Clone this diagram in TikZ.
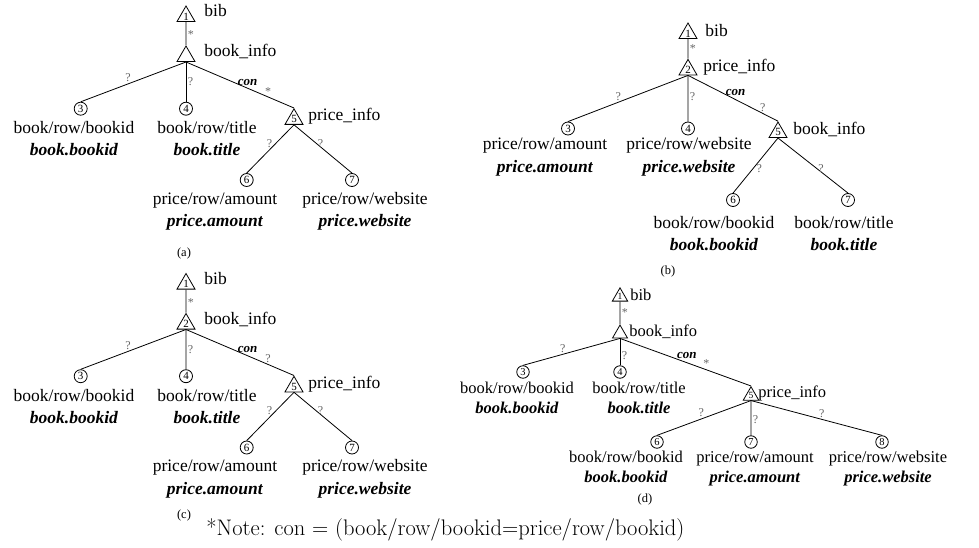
\documentclass[tikz,border=0pt]{standalone}
\usepackage{fontspec}
\newfontfamily\tmsfont{Liberation Serif}
\usetikzlibrary{shapes.geometric,positioning}

\begin{document}
\begin{tikzpicture}[
    x=1pt, y=-1pt, line width=0.8pt,
    tri/.style={regular polygon, regular polygon sides=3, draw, inner sep=0pt, minimum size=20.8pt, font=\tmsfont\fontsize{11}{11}\selectfont},
    smalltri/.style={tri, minimum size=17.3pt, font=\tmsfont\fontsize{9.5}{9.5}\selectfont},
    circ/.style={circle, draw, inner sep=0pt, minimum size=13pt, font=\tmsfont\fontsize{11}{11}\selectfont},
    smallcirc/.style={circ, minimum size=12.5pt, font=\tmsfont\fontsize{10.5}{10.5}\selectfont},
    lbl/.style={anchor=base west, inner sep=0pt, font=\tmsfont\fontsize{17.5}{21}\selectfont},
    smalllbl/.style={lbl, font=\tmsfont\fontsize{16.5}{20}\selectfont},
    leaf/.style={anchor=base, align=center, inner sep=0pt, font=\tmsfont\fontsize{17.5}{22.5}\selectfont},
    smallleaf/.style={leaf, font=\tmsfont\fontsize{16.5}{20.5}\selectfont},
    elbl/.style={inner sep=1.5pt, text=black!60, font=\tmsfont\fontsize{12}{12}\selectfont},
    conlbl/.style={inner sep=1.5pt, font=\tmsfont\bfseries\itshape\fontsize{13}{13}\selectfont},
    subcap/.style={font=\tmsfont\fontsize{12.5}{12.5}\selectfont}
]
    \useasboundingbox (0,0) rectangle (979,548);

    % (a)
    \node[tri] (a1) at (186,16.4) {1};
    \node[lbl] (a1l) at (204,16.5) {bib};
    \node[tri] (a2) at (186,56.4) {};
    \node[lbl] (a2l) at (204,57) {book\_info};
    \node[circ] (a3) at (80.7,108.7) {3};
    \node[circ] (a4) at (186,108.7) {4};
    \node[tri] (a5) at (294,119.2) {5};
    \node[lbl] (a5l) at (308,121) {price\_info};
    \node[circ] (a6) at (246.7,180) {6};
    \node[circ] (a7) at (352,180) {7};
    \node[leaf] (a3t) at (74,156) {book/row/bookid\\\textbf{\textit{book.bookid}}};
    \node[leaf] (a4t) at (207,156) {book/row/title\\\textbf{\textit{book.title}}};
    \node[leaf] (a6t) at (215,226.5) {price/row/amount\\\textbf{\textit{price.amount}}};
    \node[leaf] (a7t) at (365,226.5) {price/row/website\\\textbf{\textit{price.website}}};
    \node[subcap] (capa) at (184,253) {(a)};

    \draw (a1) -- node[elbl, right, pos=0.55] {*} (a2);
    \draw (a2.south) -- node[elbl, above, pos=0.55] {?} (a3.north);
    \draw (a2.south) -- node[elbl, right, pos=0.5] {?} (a4.north);
    \draw (a2.south) -- node[conlbl, above=1pt, pos=0.57] {con} node[elbl, above, pos=0.76] {*} (a5.north);
    \draw (a5.south) -- node[elbl, left=2pt, pos=0.38] {?} (a6.north);
    \draw (a5.south) -- node[elbl, right, pos=0.38] {?} (a7.north);

    % (b)
    \node[tri] (b1) at (688,33.4) {1};
    \node[lbl] (b1l) at (705,36.5) {bib};
    \node[tri] (b2) at (688,69.8) {2};
    \node[lbl] (b2l) at (703,72) {price\_info};
    \node[circ] (b3) at (568,128.5) {3};
    \node[circ] (b4) at (688,128.5) {4};
    \node[tri] (b5) at (778,132.4) {5};
    \node[lbl] (b5l) at (793,135) {book\_info};
    \node[circ] (b6) at (733,200) {6};
    \node[circ] (b7) at (848,200) {7};
    \node[leaf] (b3t) at (545,172.5) {price/row/amount\\\textbf{\textit{price.amount}}};
    \node[leaf] (b4t) at (689,172.5) {price/row/website\\\textbf{\textit{price.website}}};
    \node[leaf] (b6t) at (714,250.5) {book/row/bookid\\\textbf{\textit{book.bookid}}};
    \node[leaf] (b7t) at (844,250.5) {book/row/title\\\textbf{\textit{book.title}}};
    \node[subcap] (capb) at (668,271) {(b)};

    \draw (b1) -- node[elbl, right, pos=0.5] {*} (b2);
    \draw (b2.south) -- node[elbl, above, pos=0.58] {?} (b3.north);
    \draw (b2.south) -- node[elbl, right, pos=0.45] {?} (b4.north);
    \draw (b2.south) -- node[conlbl, above=2pt, pos=0.53] {con} node[elbl, above, pos=0.83] {?} (b5.north);
    \draw (b5.south) -- node[elbl, right=2pt, pos=0.56] {?} (b6.north);
    \draw (b5.south) -- node[elbl, right, pos=0.55] {?} (b7.north);

    % (c)
    \begin{scope}[shift={(0,267.5)}]
    \node[tri] (c1) at (186,16.4) {1};
    \node[lbl] (c1l) at (204,16.5) {bib};
    \node[tri] (c2) at (186,56.4) {2};
    \node[lbl] (c2l) at (204,57) {book\_info};
    \node[circ] (c3) at (80.7,108.7) {3};
    \node[circ] (c4) at (186,108.7) {4};
    \node[tri] (c5) at (294,119.2) {5};
    \node[lbl] (c5l) at (308,121) {price\_info};
    \node[circ] (c6) at (246.7,180) {6};
    \node[circ] (c7) at (352,180) {7};
    \node[leaf] (c3t) at (74,156) {book/row/bookid\\\textbf{\textit{book.bookid}}};
    \node[leaf] (c4t) at (207,156) {book/row/title\\\textbf{\textit{book.title}}};
    \node[leaf] (c6t) at (215,226.5) {price/row/amount\\\textbf{\textit{price.amount}}};
    \node[leaf] (c7t) at (365,226.5) {price/row/website\\\textbf{\textit{price.website}}};
    \node[subcap] (capc) at (184,247.5) {(c)};

    \draw (c1) -- node[elbl, right, pos=0.55] {*} (c2);
    \draw (c2.south) -- node[elbl, above, pos=0.55] {?} (c3.north);
    \draw (c2.south) -- node[elbl, right, pos=0.5] {?} (c4.north);
    \draw (c2.south) -- node[conlbl, above=1pt, pos=0.57] {con} node[elbl, above, pos=0.76] {?} (c5.north);
    \draw (c5.south) -- node[elbl, left=2pt, pos=0.38] {?} (c6.north);
    \draw (c5.south) -- node[elbl, right, pos=0.38] {?} (c7.north);
    \end{scope}

    % (d)
    \node[smalltri] (d1) at (620,296.7) {1};
    \node[smalllbl] (d1l) at (630,300) {bib};
    \node[smalltri] (d2) at (620,333.7) {};
    \node[smalllbl] (d2l) at (629,336) {book\_info};
    \node[smallcirc] (d3) at (523,372) {3};
    \node[smallcirc] (d4) at (620,372) {4};
    \node[smalltri] (d5) at (751,395.7) {5};
    \node[smalllbl] (d5l) at (758,397) {price\_info};
    \node[smallcirc] (d6) at (657,442) {6};
    \node[smallcirc] (d7) at (751,442) {7};
    \node[smallcirc] (d8) at (882,442) {8};
    \node[smallleaf] (d3t) at (517,413.5) {book/row/bookid\\\textbf{\textit{book.bookid}}};
    \node[smallleaf] (d4t) at (639,413.5) {book/row/title\\\textbf{\textit{book.title}}};
    \node[smallleaf] (d6t) at (626,482.5) {book/row/bookid\\\textbf{\textit{book.bookid}}};
    \node[smallleaf] (d7t) at (755,482.5) {price/row/amount\\\textbf{\textit{price.amount}}};
    \node[smallleaf] (d8t) at (888,482.5) {price/row/website\\\textbf{\textit{price.website}}};
    \node[subcap] (capd) at (645,499) {(d)};

    \draw (d1) -- node[elbl, right, pos=0.5] {*} (d2);
    \draw (d2.south) -- node[elbl, above, pos=0.59] {?} (d3.north);
    \draw (d2.south) -- node[elbl, right, pos=0.64] {?} (d4.north);
    \draw (d2.south) -- node[conlbl, above=2pt, pos=0.51] {con} node[elbl, above, pos=0.66] {*} (d5.north);
    \draw (d5.south) -- node[elbl, above, pos=0.53] {?} (d6.north);
    \draw (d5.south) -- node[elbl, right, pos=0.56] {?} (d7.north);
    \draw (d5.south) -- node[elbl, above, pos=0.54] {?} (d8.north);

    % note
    \node[anchor=base west, inner sep=0pt, font=\fontsize{22.5}{26}\selectfont] (note) at (206,535) {*Note: con = (book/row/bookid=price/row/bookid)};
\end{tikzpicture}
\end{document}
